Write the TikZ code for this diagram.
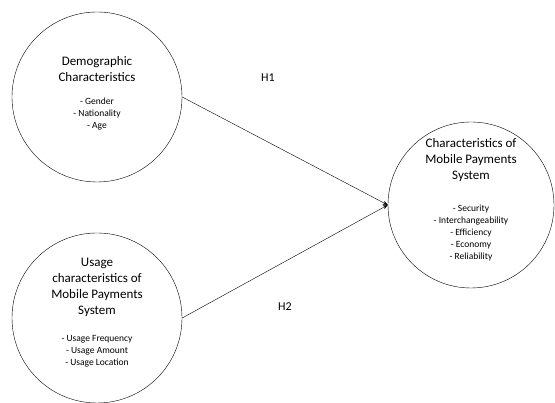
\documentclass[tikz,border=0pt]{standalone}
\usepackage{fontspec}
\setmainfont{Carlito}
\usetikzlibrary{arrows.meta}

\tikzset{
    construct/.style={draw, circle, thin, minimum size=#1, inner sep=0pt},
    ctitle/.style={align=center, inner sep=0pt, font=\fontsize{13}{16}\selectfont},
    citems/.style={align=center, inner sep=0pt, font=\fontsize{9.5}{12}\selectfont},
    hyp/.style={font=\fontsize{12}{14}\selectfont},
}

\begin{document}
\begin{tikzpicture}[x=1pt, y=1pt]
\useasboundingbox (0,0) rectangle (555,403);
% constructs
\node [construct=170pt] (demo) at (97,306) {};
\node [construct=170pt] (usage) at (97,85) {};
\node [construct=166pt] (mps) at (471,198) {};
% texts inside
\node [ctitle] (demo-t) at ([yshift=28pt]demo.center) {Demographic\\Characteristics};
\node [citems] (demo-i) at ([yshift=-17pt]demo.center) {- Gender\\- Nationality\\- Age};
\node [ctitle] (usage-t) at ([yshift=31pt]usage.center) {Usage\\characteristics of\\Mobile Payments\\System};
\node [citems] (usage-i) at ([yshift=-33pt]usage.center) {- Usage Frequency\\- Usage Amount\\- Usage Location};
\node [ctitle] (mps-t) at ([yshift=45pt]mps.center) {Characteristics of\\Mobile Payments\\System};
\node [citems] (mps-i) at ([yshift=-28pt]mps.center) {- Security\\- Interchangeability\\- Efficiency\\- Economy\\- Reliability};
% hypotheses
\draw [-{Stealth[length=5pt, width=4pt]}, thin] (demo.east) -- (mps.west);
\draw [-{Stealth[length=5pt, width=4pt]}, thin] (usage.east) -- (mps.west);
\node [hyp] (h1) at (268,325) {H1};
\node [hyp] (h2) at (285,96) {H2};
\end{tikzpicture}
\end{document}
